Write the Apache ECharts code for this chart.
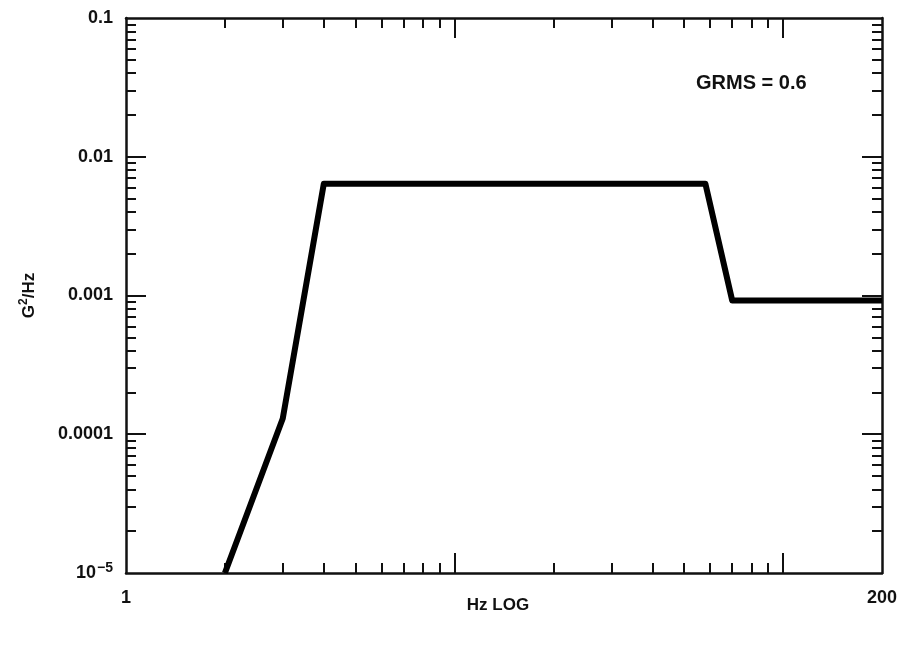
<!DOCTYPE html>
<html>
<head>
<meta charset="utf-8">
<script src="https://cdn.jsdelivr.net/npm/echarts@6/dist/echarts.min.js"></script>
<style>
  html, body { margin: 0; padding: 0; background: #fff; }
  #chart { width: 905px; height: 646px; }
</style>
</head>
<body>
<div id="chart"></div>
<script>
// PSD profile (Hz, G^2/Hz)
const freqHz = [2, 3, 4, 58, 70, 200];
const psdG2 = [0.00001, 0.00013, 0.0064, 0.0064, 0.00092, 0.00092];

const xTickLabels = [1, 200];
const xMajorTicks = [10, 100];
const xMinorTicks = [2, 3, 4, 5, 6, 7, 8, 9, 20, 30, 40, 50, 60, 70, 80, 90];
const yTickLabels = [0.1, 0.01, 0.001, 0.0001, 0.00001];
const yMajorTicks = [0.01, 0.001, 0.0001];
const yMinorTicks = [];
[0.00001, 0.0001, 0.001, 0.01].forEach(function (d) {
    for (let k = 2; k <= 9; k++) yMinorTicks.push(+(d * k).toPrecision(3));
});

const font = 'Liberation Sans, Arial, sans-serif';
const ink = '#111';

function xAxisFor(position, ticks, len, withLine, withLabels) {
    return {
        type: 'log', logBase: 10, min: 1, max: 200, position: position,
        gridIndex: 0,
        axisLine: { show: withLine, onZero: false, lineStyle: { color: ink, width: 2.5 } },
        axisTick: { show: true, inside: true, length: len, customValues: ticks, lineStyle: { color: ink, width: 2 } },
        minorTick: { show: false },
        splitLine: { show: false },
        axisLabel: withLabels ? {
            customValues: xTickLabels, color: ink, fontFamily: font, fontSize: 18, fontWeight: 'bold', margin: 16
        } : { show: false },
        name: withLabels ? 'Hz LOG' : '',
        nameLocation: 'middle', nameGap: 24, nameMoveOverlap: false,
        nameTextStyle: { color: ink, fontFamily: font, fontSize: 17, fontWeight: 'bold', padding: [0, 12, 0, 0] }
    };
}

function yAxisFor(position, ticks, len, withLine, withLabels) {
    return {
        type: 'log', logBase: 10, min: 0.00001, max: 0.1, position: position,
        gridIndex: 0,
        axisLine: { show: withLine, onZero: false, lineStyle: { color: ink, width: 2.5 } },
        axisTick: { show: true, inside: true, length: len, customValues: ticks, lineStyle: { color: ink, width: 2 } },
        minorTick: { show: false },
        splitLine: { show: false },
        axisLabel: withLabels ? {
            customValues: yTickLabels, color: ink, fontFamily: font, fontSize: 18, fontWeight: 'bold', margin: 13,
            formatter: function (v) {
                if (v < 0.00002) return '10{sup|−5}';
                if (v < 0.0002) return '0.0001';
                if (v < 0.002) return '0.001';
                if (v < 0.02) return '0.01';
                return '0.1';
            },
            rich: {
                sup: { fontSize: 14, fontWeight: 'bold', fontFamily: font, color: ink, verticalAlign: 'top', padding: [0, 0, 10, 1] }
            }
        } : { show: false },
        name: withLabels ? 'G{sup|2}/Hz' : '',
        nameLocation: 'middle', nameGap: 86, nameRotate: 90, nameMoveOverlap: false,
        nameTextStyle: {
            color: ink, fontFamily: font, fontSize: 17, fontWeight: 'bold',
            rich: { sup: { fontSize: 12, fontWeight: 'bold', fontFamily: font, color: ink, padding: [0, 0, 10, 0] } }
        }
    };
}

const chart = echarts.init(document.getElementById('chart'), null, { renderer: 'canvas' });

chart.setOption({
    backgroundColor: '#fff',
    animation: false,
    grid: { left: 126, right: 23, top: 18, bottom: 73, containLabel: false },
    xAxis: [
        xAxisFor('bottom', xMajorTicks, 20, true, true),
        xAxisFor('bottom', xMinorTicks, 10, false, false),
        xAxisFor('top', xMajorTicks, 20, true, false),
        xAxisFor('top', xMinorTicks, 10, false, false)
    ],
    yAxis: [
        yAxisFor('left', yMajorTicks, 20, true, true),
        yAxisFor('left', yMinorTicks, 10, false, false),
        yAxisFor('right', yMajorTicks, 20, true, false),
        yAxisFor('right', yMinorTicks, 10, false, false)
    ],
    graphic: [{
        type: 'text', left: 696, top: 73,
        style: { text: 'GRMS = 0.6', fill: ink, font: 'bold 20px ' + font }
    }],
    series: [{
        type: 'line',
        xAxisIndex: 0, yAxisIndex: 0,
        data: freqHz.map(function (f, i) { return [f, psdG2[i]]; }),
        showSymbol: false,
        lineStyle: { color: '#000', width: 6, join: 'round' },
        clip: true
    }]
});
</script>
</body>
</html>
